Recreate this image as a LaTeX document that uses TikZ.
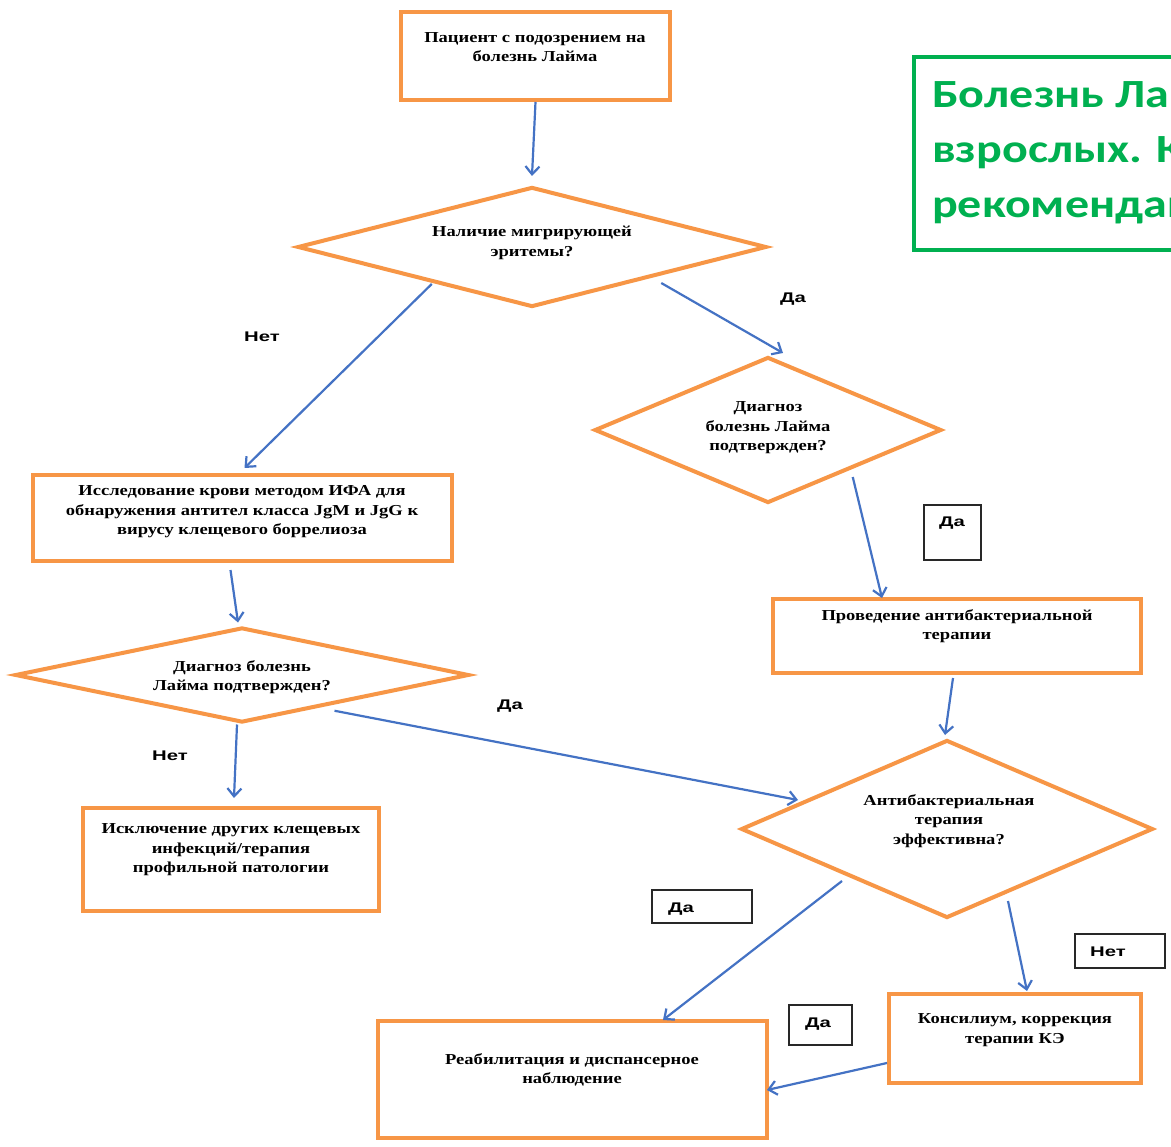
\documentclass[tikz,border=0pt]{standalone}
\usepackage{fontspec}
\setmainfont{Liberation Serif}
\newfontfamily\boxfont[FakeStretch=1.22]{Liberation Serif}
\newfontfamily\labfont[FakeStretch=1.45]{Liberation Sans}
\newfontfamily\titlefont[FakeStretch=1.2]{Carlito}
\usetikzlibrary{shapes.geometric,arrows.meta,calc}
\definecolor{orng}{RGB}{247,150,70}
\definecolor{blu}{RGB}{68,114,196}
\definecolor{grn}{RGB}{0,176,80}
\definecolor{frm}{RGB}{40,40,40}
\begin{document}
\begin{tikzpicture}[x=1pt,y=-1pt,
  box/.style={draw=orng,line width=4pt,rectangle,inner sep=0pt},
  dia/.style={draw=orng,line width=4pt,diamond,inner sep=0pt},
  txt/.style={inner sep=0pt,align=center,font=\boxfont\bfseries\fontsize{15.2}{19.5}\selectfont},
  lab/.style={inner sep=0pt,font=\labfont\bfseries\fontsize{14}{16}\selectfont},
  frame/.style={draw=frm,line width=2pt,rectangle,inner sep=0pt},
  arr/.style={draw=blu,line width=2.2pt,-{Straight Barb[length=8pt,width=14pt]}}]
\clip (0,0) rectangle (1171,1147);
\fill[white] (0,0) rectangle (1171,1147);
% boxes
\node[box,minimum width=269,minimum height=88] (t) at (535.5,56) {};
\node[txt] (tT) at (535,47) {Пациент с подозрением на\\болезнь Лайма};
\node[box,minimum width=419,minimum height=86] (lb) at (242.5,518) {};
\node[txt] (lbT) at (242,512) {Исследование крови методом ИФА для\\обнаружения антител класса JgM и JgG к\\вирусу клещевого боррелиоза};
\node[box,minimum width=368,minimum height=74] (rb) at (957,636) {};
\node[txt] (rbT) at (957,626) {Проведение антибактериальной\\терапии};
\node[box,minimum width=296,minimum height=103] (bl) at (231,859.5) {};
\node[txt] (blT) at (231,850) {Исключение других клещевых\\инфекций/терапия\\профильной патологии};
\node[box,minimum width=389,minimum height=117] (bb) at (572.5,1079.5) {};
\node[txt] (bbT) at (572,1070) {Реабилитация и диспансерное\\наблюдение};
\node[box,minimum width=252,minimum height=89] (ks) at (1015,1038.5) {};
\node[txt] (ksT) at (1015,1030) {Консилиум, коррекция\\терапии КЭ};
% diamonds
\node[dia,minimum width=469,minimum height=120] (d1) at (532,247) {};
\node[txt] (d1T) at (532,243) {Наличие мигрирующей\\эритемы?};
\node[dia,minimum width=347,minimum height=146] (d2) at (768,430) {};
\node[txt] (d2T) at (768,428) {Диагноз\\болезнь Лайма\\подтвержден?};
\node[dia,minimum width=454,minimum height=95] (d3) at (242,675) {};
\node[txt] (d3T) at (242,677) {Диагноз болезнь\\Лайма подтвержден?};
\node[dia,minimum width=412,minimum height=178] (d4) at (947,829) {};
\node[txt] (d4T) at (949,821) {Антибактериальная\\терапия\\эффективна?};
% green title
\node[draw=grn,line width=4pt,rectangle,inner sep=0pt,minimum width=290,minimum height=193,anchor=north west] (g) at (912,55) {};
\node[inner sep=0pt,anchor=base west,align=left,text=grn,font=\titlefont\bfseries\fontsize{40}{55}\selectfont] (gT) at (932,218) {Болезнь Лайма у\\взрослых. Клинические\\рекомендации};
% framed labels
\node[frame,minimum width=57,minimum height=55] (f1) at (952.5,532.5) {};
\node[lab] (f1T) at (952,523) {Да};
\node[frame,minimum width=100,minimum height=33] (f2) at (702,906.5) {};
\node[lab] (f2T) at (681,909) {Да};
\node[frame,minimum width=90,minimum height=34] (f3) at (1120,951) {};
\node[lab] (f3T) at (1108,952) {Нет};
\node[frame,minimum width=63,minimum height=40] (f4) at (820.5,1025) {};
\node[lab] (f4T) at (818,1024) {Да};
% free labels
\node[lab] (l1) at (793,299) {Да};
\node[lab] (l2) at (262,337) {Нет};
\node[lab] (l3) at (170,756) {Нет};
\node[lab] (l4) at (510,706) {Да};
% arrows
\draw[arr] (t.south) -- ($(d1.north)+(0,-9)$);
\draw[arr] ($(d1.south east)+(11,5)$) -- ($(d2.north)+(15,-2)$);
\draw[arr] ($(d1.south west)+(18,6)$) -- ($(lb.north)+(2,-5)$);
\draw[arr] ($(lb.south)+(-12,7)$) -- ($(d3.north)+(-4,-3)$);
\draw[arr] ($(d3.south)+(-5,0)$) -- ($(bl.north)+(3,-8)$);
\draw[arr] ($(d3.south east)+(-22,11)$) -- ($(d4.west)+(59,-29)$);
\draw[arr] ($(d2.south east)+(-3,9.5)$) -- ($(rb.north)+(-75,1)$);
\draw[arr] ($(rb.south)+(-4,3)$) -- ($(d4.north)+(-2,-3)$);
\draw[arr] ($(d4.south west)+(-1,6.5)$) -- ($(bb.north)+(90.5,1)$);
\draw[arr] ($(d4.south east)+(-43,26.5)$) -- ($(ks.north)+(12,-1)$);
\draw[arr] ($(ks.west)+(0,24.5)$) -- ($(bb.east)+(-2,10.5)$);
\end{tikzpicture}
\end{document}
